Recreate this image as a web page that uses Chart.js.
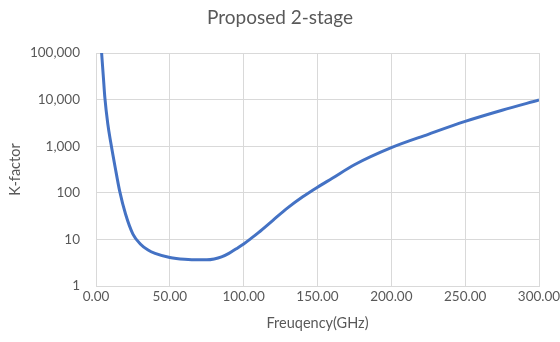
<!DOCTYPE html>
<html>
<head>
<meta charset="utf-8">
<script src="https://cdn.jsdelivr.net/npm/chart.js@4.4.1/dist/chart.umd.min.js"></script>
<style>
  html, body { margin: 0; padding: 0; background: #fff; }
  #wrap { width: 560px; height: 342px; }
</style>
</head>
<body>
<div id="wrap"><canvas id="chart" width="560" height="342"></canvas></div>
<script>
// Proposed 2-stage K-factor vs frequency

const freqGHz = [3.8, 5, 6, 8, 10, 13, 16, 20, 25, 30, 35, 40, 50, 60, 70, 75, 80, 85, 90, 95,
  100, 105, 110, 120, 130, 140, 150, 160, 175, 200, 225, 250, 275, 300];
const kFactor = [100000, 30000, 11000, 3000, 1200, 350, 110, 35, 13, 8, 6, 5, 4.1, 3.75, 3.65, 3.65, 3.8, 4.2, 5, 6.3,
  8, 10.5, 14, 26, 48, 82, 132, 205, 400, 930, 1800, 3400, 5900, 9800];
const yTicks = [1, 10, 100, 1000, 10000, 100000];
const xTicks = [0, 50, 100, 150, 200, 250, 300];

const FONT = 'Lato, "Open Sans", sans-serif';
const GREY = '#595959';
const GRID = '#d9d9d9';

const points = freqGHz.map((f, i) => ({ x: f, y: kFactor[i] }));

new Chart(document.getElementById('chart'), {
  type: 'scatter',
  data: {
    datasets: [{
      label: 'K-factor',
      data: points,
      showLine: true,
      borderColor: '#4472C4',
      borderWidth: 3,
      pointRadius: 0,
      cubicInterpolationMode: 'monotone'
    }]
  },
  options: {
    responsive: false,
    animation: false,
    layout: { padding: { left: 0, right: 0, top: 0, bottom: 0 } },
    plugins: {
      legend: { display: false },
      tooltip: { enabled: false },
      title: {
        display: true,
        text: 'Proposed 2-stage',
        color: GREY,
        font: { family: FONT, size: 19, weight: 'normal' },
        padding: { top: 6, bottom: 24.2 }
      }
    },
    scales: {
      x: {
        type: 'linear',
        min: 0,
        max: 300,
        afterBuildTicks: s => { s.ticks = xTicks.map(v => ({ value: v })); },
        afterFit: s => { s.height = 56; s.paddingRight = 21; },
        grid: { color: GRID, drawTicks: false },
        border: { color: GRID },
        ticks: {
          color: GREY,
          font: { family: FONT, size: 13.5 },
          padding: 3,
          maxRotation: 0,
          callback: v => Number(v).toFixed(2)
        },
        title: {
          display: true,
          text: 'Freuqency(GHz)',
          color: GREY,
          font: { family: FONT, size: 14.5 },
          padding: { top: 0, bottom: 10 }
        }
      },
      y: {
        type: 'logarithmic',
        min: 1,
        max: 100000,
        afterBuildTicks: s => { s.ticks = yTicks.map(v => ({ value: v })); },
        afterFit: s => { s.width = 96; },
        grid: { color: GRID, drawTicks: false },
        border: { color: GRID },
        ticks: {
          color: GREY,
          font: { family: FONT, size: 13.5 },
          padding: 16,
          callback: v => Number(v).toLocaleString('en-US')
        },
        title: {
          display: true,
          text: 'K-factor',
          color: GREY,
          font: { family: FONT, size: 14.5 },
          padding: { top: 7, bottom: 0 }
        }
      }
    }
  }
});
</script>
</body>
</html>
